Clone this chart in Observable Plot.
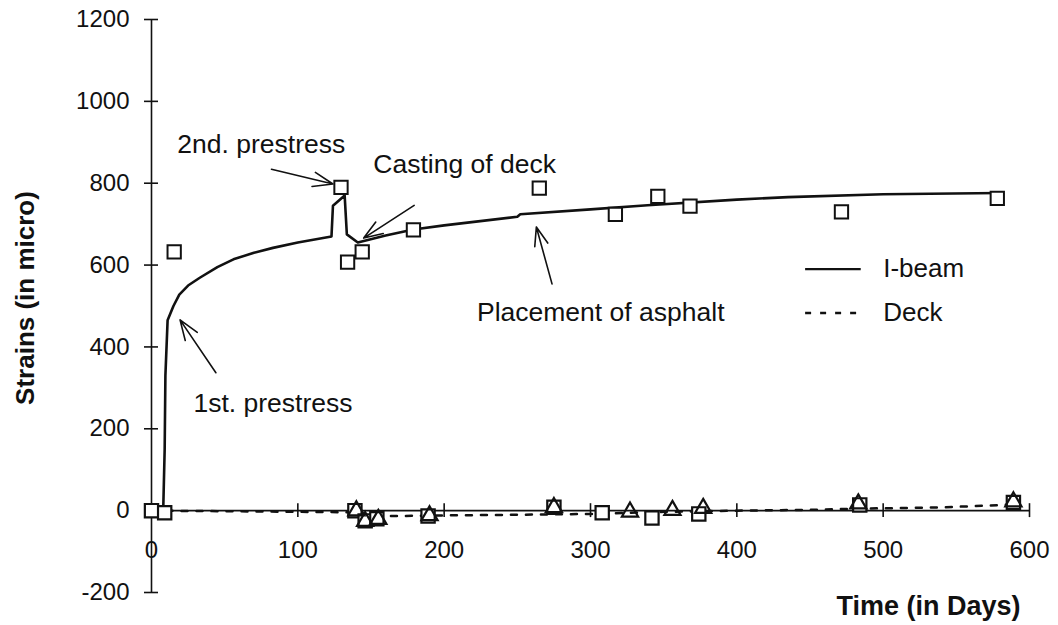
<!DOCTYPE html>
<html>
<head>
<meta charset="utf-8">
<script src="https://cdn.jsdelivr.net/npm/d3@7"></script>
<script src="https://cdn.jsdelivr.net/npm/@observablehq/plot@0.6"></script>
<style>
  html, body { margin: 0; padding: 0; background: #fff; }
  #chart svg { display: block; }
</style>
</head>
<body>
<div id="chart"></div>
<script>
// ---- data ----
// I-beam fitted curve (solid)
const ibeamDays   = [8, 9, 9.5, 11, 15, 19, 25, 33, 45, 56, 70, 83, 100, 123, 124, 132, 133.5, 141, 160, 179, 200, 250, 252, 300, 339, 400, 435, 500, 580];
const ibeamStrain = [0, 150, 330, 465, 500, 528, 550, 569, 595, 614, 630, 642, 655, 670, 745, 770, 675, 655, 672, 687, 697, 718, 724, 736, 746, 760, 766, 773, 776];
// I-beam measured points (open squares)
const ibeamObsDays   = [15.5, 129.5, 134, 144, 179, 265, 317, 346, 368, 471.5, 578];
const ibeamObsStrain = [632, 790, 607, 632, 686, 788, 724, 768, 744, 730, 763];
// measured points near zero (open squares)
const lowSqDays   = [0, 9, 139, 146, 154, 189, 275, 308, 342, 374, 484, 589];
const lowSqStrain = [0, -5, 0, -25, -20, -13, 8, -5, -18, -8, 14, 20];
// Deck measured points (open triangles)
const deckTriDays   = [140, 146, 155, 190, 275, 327, 356, 377, 483, 589];
const deckTriStrain = [0, -26, -21, -12, 8, -3, 1, 6, 17, 22];
// Deck curve (dashed)
const deckDays   = [0, 140, 150, 190, 250, 300, 350, 400, 450, 485, 540, 590];
const deckStrain = [0, -4, -14, -12, -10, -8, -3, 0, 2, 5, 8, 15];

const xTicks = [0, 100, 200, 300, 400, 500, 600];
const yTicks = [-200, 0, 200, 400, 600, 800, 1000, 1200];
// half-length of the crossing tick marks, in data units (about 7 px)
const tickHalfX = 4.8, tickHalfY = 17;

// annotations: label, position, arrow start and tip
const noteText  = ["2nd. prestress", "Casting of deck", "Placement of asphalt", "1st. prestress"];
const noteDay   = [75, 214, 307, 83];
const noteVal   = [895, 846, 485, 261];
const arrowDay1 = [82, 179.5, 273.7, 44];
const arrowVal1 = [834, 746, 554, 337];
const arrowDay2 = [124, 145, 263, 19.5];
const arrowVal2 = [798, 666, 693, 466];

// legend
const legendNames = ["I-beam", "Deck"];
const legendVal   = [590, 483];
const legendX1 = 447, legendX2 = 485, legendTextX = 500;

// ---- build tables ----
const ibeam = ibeamDays.map((d, i) => ({day: d, v: ibeamStrain[i]}));
const ibeamObs = ibeamObsDays.map((d, i) => ({day: d, v: ibeamObsStrain[i]}));
const lowSq = lowSqDays.map((d, i) => ({day: d, v: lowSqStrain[i]}));
const deckTri = deckTriDays.map((d, i) => ({day: d, v: deckTriStrain[i]}));
const deck = deckDays.map((d, i) => ({day: d, v: deckStrain[i]}));
const notes = noteText.map((t, i) => ({t, x: noteDay[i], y: noteVal[i],
  x1: arrowDay1[i], y1: arrowVal1[i], x2: arrowDay2[i], y2: arrowVal2[i]}));
const legend = legendNames.map((n, i) => ({n, y: legendVal[i]}));

const ink = "#111";

const chart = Plot.plot({
  width: 1058,
  height: 625,
  marginLeft: 151,
  marginRight: 29,
  marginTop: 19,
  marginBottom: 33,
  x: {domain: [0, 600], axis: null},
  y: {domain: [-200, 1200], axis: null},
  style: {fontFamily: "'Liberation Sans', Arial, sans-serif", background: "#fff", color: ink},
  marks: [
    // axes
    Plot.ruleY([0], {x1: 0, x2: 600, stroke: ink, strokeWidth: 1.6}),
    Plot.ruleX([0], {y1: -200, y2: 1200, stroke: ink, strokeWidth: 1.6}),
    Plot.ruleX(xTicks, {x: d => d, y1: -tickHalfY, y2: tickHalfY, stroke: ink, strokeWidth: 1.6}),
    Plot.ruleY(yTicks, {y: d => d, x1: -tickHalfX, x2: tickHalfX, stroke: ink, strokeWidth: 1.6}),
    Plot.text(xTicks, {x: d => d, y: 0, dy: 40, text: d => String(d), fontSize: 24, fill: ink}),
    Plot.text(yTicks, {x: 0, y: d => d, dx: -22, text: d => String(d), textAnchor: "end", fontSize: 24, fill: ink}),
    Plot.text(["Time (in Days)"], {frameAnchor: "bottom-right", dx: -9, dy: 22, fontSize: 27, fontWeight: "bold", fill: ink}),
    Plot.text(["Strains (in micro)"], {frameAnchor: "left", textAnchor: "middle", dx: -126, dy: -8, rotate: -90, fontSize: 26, fontWeight: "bold", fill: ink}),
    // series
    Plot.line(deck, {x: "day", y: "v", stroke: ink, strokeWidth: 2.5, strokeDasharray: "6,9"}),
    Plot.line(ibeam, {x: "day", y: "v", stroke: ink, strokeWidth: 2.6, curve: "linear"}),
    Plot.dot(ibeamObs, {x: "day", y: "v", symbol: "square", r: 7.5, stroke: ink, fill: "#fff", strokeWidth: 2}),
    Plot.dot(lowSq, {x: "day", y: "v", symbol: "square", r: 7.5, stroke: ink, fill: "#fff", strokeWidth: 2.2}),
    Plot.dot(deckTri, {x: "day", y: "v", symbol: "triangle", r: 6, stroke: ink, fill: "none", strokeWidth: 2.2}),
    // annotations
    Plot.arrow(notes, {x1: "x1", y1: "y1", x2: "x2", y2: "y2", stroke: ink, strokeWidth: 1.6, headLength: 22, headAngle: 40}),
    Plot.text(notes, {x: "x", y: "y", text: "t", fontSize: 26.5, fill: ink}),
    // legend
    Plot.ruleY(legend.slice(0, 1), {y: "y", x1: legendX1, x2: legendX2, stroke: ink, strokeWidth: 2.2}),
    Plot.ruleY(legend.slice(1), {y: "y", x1: legendX1, x2: legendX2, stroke: ink, strokeWidth: 2.5, strokeDasharray: "6,9"}),
    Plot.text(legend, {y: "y", x: legendTextX, text: "n", textAnchor: "start", fontSize: 26, fill: ink})
  ]
});
document.getElementById("chart").appendChild(chart);
</script>
</body>
</html>
